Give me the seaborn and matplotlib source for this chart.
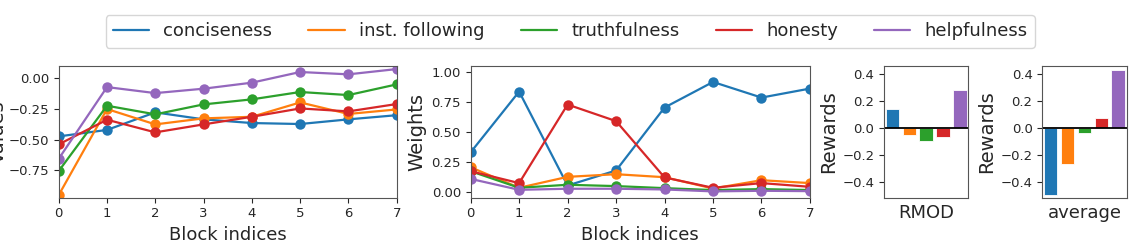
import numpy as np
import pandas as pd
import matplotlib
matplotlib.use("Agg")
import matplotlib.pyplot as plt
import seaborn as sns

# attributes / series
attributes = ["conciseness", "inst. following", "truthfulness", "honesty", "helpfulness"]
blocks = [0, 1, 2, 3, 4, 5, 6, 7]

# per-block values (left panel)
values_conciseness = [-0.473, -0.420, -0.277, -0.334, -0.364, -0.372, -0.334, -0.300]
values_inst = [-0.951, -0.250, -0.375, -0.326, -0.313, -0.196, -0.290, -0.253]
values_truth = [-0.755, -0.223, -0.293, -0.212, -0.171, -0.111, -0.136, -0.049]
values_honesty = [-0.538, -0.337, -0.440, -0.375, -0.313, -0.245, -0.269, -0.209]
values_helpful = [-0.655, -0.071, -0.120, -0.084, -0.035, 0.052, 0.033, 0.076]

# per-block weights (middle panel)
weights_conciseness = [0.331, 0.837, 0.055, 0.180, 0.704, 0.917, 0.787, 0.862]
weights_inst = [0.207, 0.036, 0.127, 0.149, 0.124, 0.030, 0.099, 0.075]
weights_truth = [0.174, 0.036, 0.061, 0.050, 0.033, 0.017, 0.025, 0.017]
weights_honesty = [0.174, 0.075, 0.729, 0.591, 0.122, 0.036, 0.075, 0.044]
weights_helpful = [0.110, 0.019, 0.028, 0.028, 0.022, 0.006, 0.011, 0.008]

# rewards (bar panels)
rewards_rmod = [0.144, -0.052, -0.094, -0.065, 0.283]
rewards_average = [-0.502, -0.271, -0.037, 0.072, 0.435]

palette = sns.color_palette("tab10", 5)


def long_df(series, name):
    rows = []
    for attr, vals in zip(attributes, series):
        for b, v in zip(blocks, vals):
            rows.append({"block": b, "attribute": attr, name: v})
    return pd.DataFrame(rows)


values_df = long_df([values_conciseness, values_inst, values_truth,
                     values_honesty, values_helpful], "value")
weights_df = long_df([weights_conciseness, weights_inst, weights_truth,
                      weights_honesty, weights_helpful], "weight")

sns.set_style("ticks")
plt.rcParams["font.family"] = ["DejaVu Sans"]

fig = plt.figure(figsize=(11.36, 2.5), dpi=100)
ax1 = fig.add_axes([0.0517, 0.209, 0.2975, 0.528])
ax2 = fig.add_axes([0.4143, 0.209, 0.2987, 0.528])
ax3 = fig.add_axes([0.7782, 0.207, 0.0742, 0.530])
ax4 = fig.add_axes([0.9175, 0.207, 0.0743, 0.530])

line_kw = dict(hue="attribute", hue_order=attributes, palette=palette,
               marker="o", markersize=7.5, markeredgewidth=0, linewidth=1.6,
               legend=False)
sns.lineplot(data=values_df, x="block", y="value", ax=ax1, **line_kw)
sns.lineplot(data=weights_df, x="block", y="weight", ax=ax2, **line_kw)

for ax in (ax1, ax2):
    ax.set_xlim(0, 7)
    ax.set_xticks(blocks)
    ax.set_xlabel("Block indices", fontsize=13)
    ax.tick_params(labelsize=9.5)

ax1.set_ylim(-0.973, 0.103)
ax1.set_yticks([0.0, -0.25, -0.5, -0.75])
ax1.set_ylabel("Values", fontsize=14, labelpad=0.5)
ax2.set_ylim(-0.047, 1.052)
ax2.set_yticks([0.0, 0.25, 0.5, 0.75, 1.0])
ax2.set_ylabel("Weights", fontsize=14)

for ax, vals, label in ((ax3, rewards_rmod, "RMOD"), (ax4, rewards_average, "average")):
    bdf = pd.DataFrame({"attribute": attributes, "reward": vals})
    sns.barplot(data=bdf, x="attribute", y="reward", hue="attribute",
                hue_order=attributes, order=attributes, palette=palette,
                width=0.8, saturation=1, edgecolor="white", linewidth=0.6,
                legend=False, ax=ax)
    ax.axhline(0, color="black", linewidth=1.3)
    ax.set_ylim(-0.524, 0.465)
    ax.set_yticks([0.4, 0.2, 0.0, -0.2, -0.4])
    ax.set_xticks([])
    ax.set_xlabel(label, fontsize=13)
    ax.set_ylabel("Rewards", fontsize=14, labelpad=3)
    ax.tick_params(labelsize=9.5)

for ax in (ax1, ax2, ax3, ax4):
    for sp in ax.spines.values():
        sp.set_visible(True)
        sp.set_color("#555555")

handles = [plt.Line2D([], [], color=c, linewidth=1.6) for c in palette]
fig.legend(handles, attributes, loc="upper center", bbox_to_anchor=(0.502, 0.975),
           ncol=5, fontsize=13, frameon=True)

fig.savefig("out.png", dpi=100)
